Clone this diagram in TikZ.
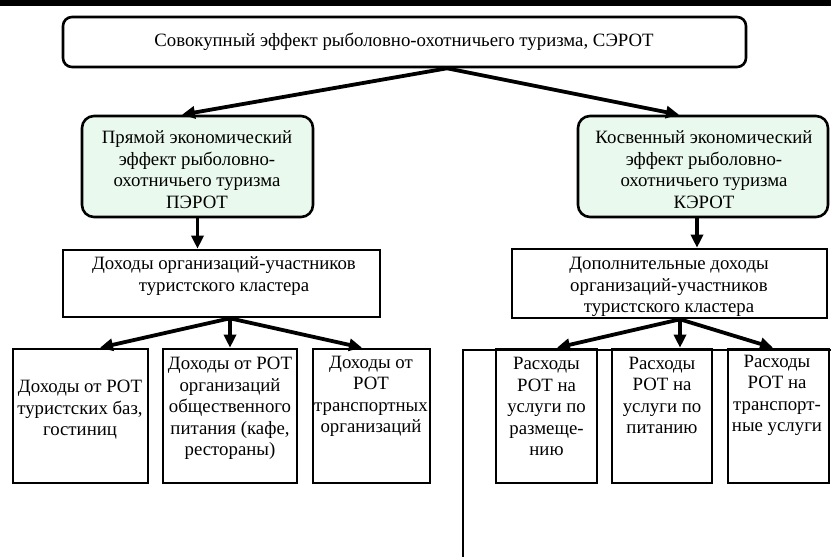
\documentclass[tikz,border=0pt]{standalone}
\usepackage{fontspec}
\setmainfont{Liberation Serif}
\usetikzlibrary{arrows.meta}
\definecolor{mint}{HTML}{EAF9EE}
\newcommand{\fs}{\fontsize{18.8}{21.5}\selectfont}
\begin{document}
\begin{tikzpicture}[x=1pt,y=-1pt,
  bx/.style={draw, line width=2.6pt, inner sep=0pt, fill=white},
  gbox/.style={bx, rounded corners=12pt, fill=mint},
  txt/.style={align=center, inner sep=0pt, font=\fs},
  arr/.style={line width=3.8pt, -{Triangle[length=13pt,width=12pt]}},
  ln/.style={line width=2.6pt}]
\useasboundingbox (0,0) rectangle (831,557);
\fill[black] (0,0) rectangle (831,6);
% boxes
\node[bx, rounded corners=9pt, minimum width=683pt, minimum height=50pt] (top) at (404.5,42) {};
\node[gbox, minimum width=231pt, minimum height=101pt] (pr) at (197.5,166.5) {};
\node[gbox, minimum width=250pt, minimum height=101pt] (kos) at (703,166.5) {};
\node[bx, minimum width=317pt, minimum height=67pt] (doh) at (221.5,283.5) {};
\node[bx, minimum width=315pt, minimum height=69pt] (dop) at (669.5,283.5) {};
\node[bx, minimum width=135pt, minimum height=134pt] (b1) at (80.5,416) {};
\node[bx, minimum width=134pt, minimum height=134pt] (b2) at (230,416) {};
\node[bx, minimum width=117pt, minimum height=134pt] (b3) at (371.5,416) {};
\node[bx, minimum width=101pt, minimum height=134pt] (r1) at (546.5,416) {};
\node[bx, minimum width=100pt, minimum height=134pt] (r2) at (662,416) {};
\node[bx, minimum width=101pt, minimum height=134pt] (r3) at (778.5,416) {};
% frame lines
\coordinate (fa) at (463,557);
\coordinate (fb) at (463,350);
\coordinate (fc) at (831,350);
\draw[ln] (fa) -- (fb) -- (fc);
% texts
\node[txt] (ttop) at (404,42) {Совокупный эффект рыболовно-охотничьего туризма, СЭРОТ};
\node[txt] (tpr) at (197,169.5) {Прямой экономический\\эффект рыболовно-\\охотничьего туризма\\ПЭРОТ};
\node[txt] (tkos) at (704,169.5) {Косвенный экономический\\эффект рыболовно-\\охотничьего туризма\\КЭРОТ};
\node[txt] (tdoh) at (224,276) {Доходы организаций-участников\\туристского кластера};
\node[txt] (tdop) at (669,287) {Дополнительные доходы\\организаций-участников\\туристского кластера};
\node[txt] (tb1) at (80,410) {Доходы от РОТ\\туристских баз,\\гостиниц};
\node[txt] (tb2) at (230,408.5) {Доходы от РОТ\\организаций\\общественного\\питания (кафе,\\рестораны)};
\node[txt] (tb3) at (371,396.5) {Доходы от\\РОТ\\транспортных\\организаций};
\node[txt] (tr1) at (546.5,406.5) {Расходы\\РОТ на\\услуги по\\размеще-\\нию};
\node[txt] (tr2) at (662,395.5) {Расходы\\РОТ на\\услуги по\\питанию};
\node[txt] (tr3) at (777,395.5) {Расходы\\РОТ на\\транспорт-\\ные услуги};
% arrows
\draw[arr] ([xshift=42.5pt]top.south) -- ([xshift=-15.5pt]pr.north);
\draw[arr] ([xshift=42.5pt]top.south) -- ([xshift=-24pt]kos.north);
\draw[arr] (pr.south) -- (pr.south |- doh.north);
\draw[arr] ([xshift=-6pt]kos.south) -- ([xshift=-6pt]kos.south |- dop.north);
\draw[arr] ([xshift=8.5pt]doh.south) -- ([xshift=19.5pt]b1.north);
\draw[arr] ([xshift=8.5pt]doh.south) -- (b2.north);
\draw[arr] ([xshift=8.5pt]doh.south) -- ([xshift=-9.5pt]b3.north);
\draw[arr] ([xshift=10.5pt]dop.south) -- ([xshift=10.5pt]r1.north);
\draw[arr] ([xshift=10.5pt]dop.south) -- ([xshift=18pt]r2.north);
\draw[arr] ([xshift=10.5pt]dop.south) -- ([xshift=-5.5pt]r3.north);
\end{tikzpicture}
\end{document}
